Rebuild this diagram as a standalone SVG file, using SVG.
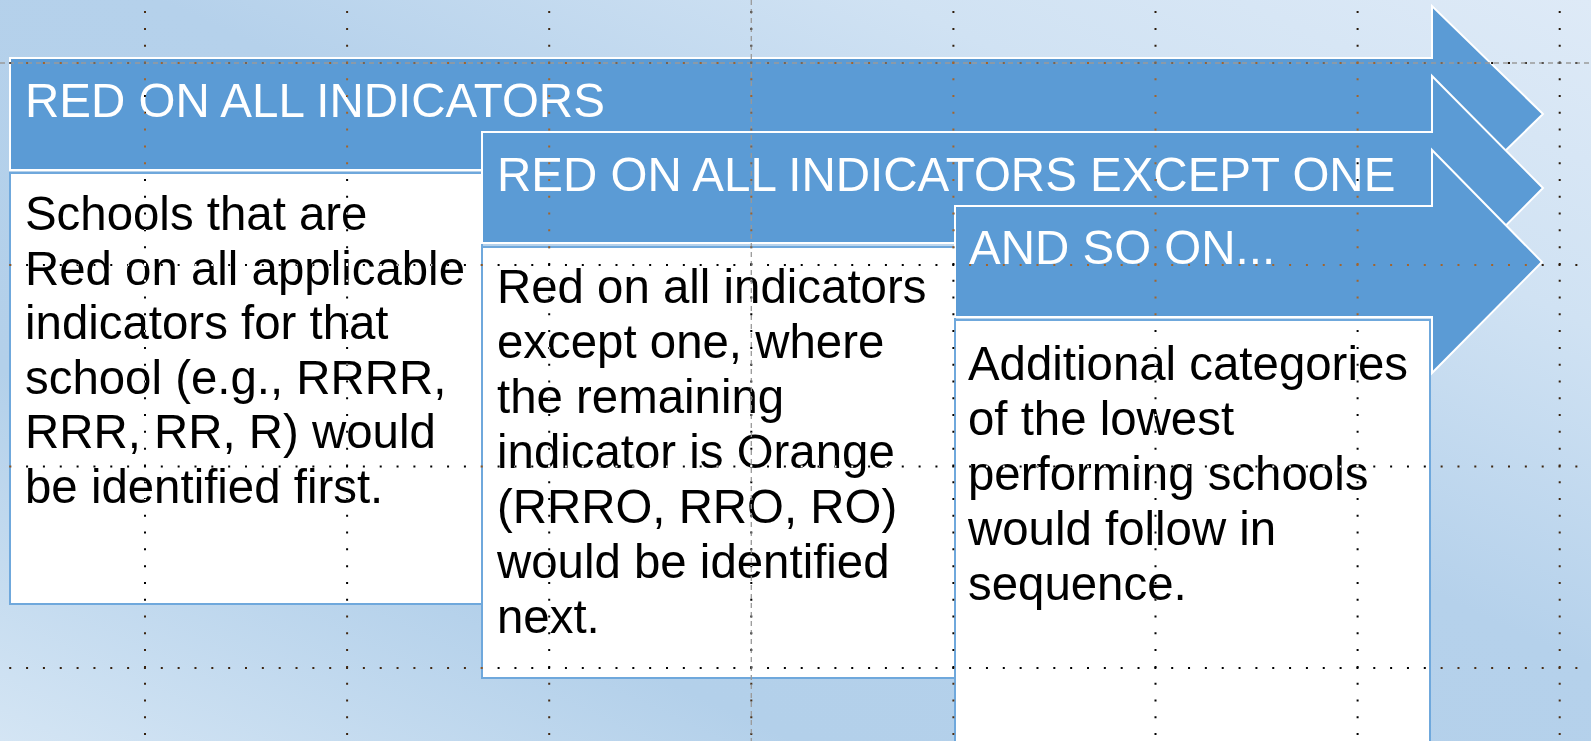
<svg xmlns="http://www.w3.org/2000/svg" width="1591" height="741" viewBox="0 0 1591 741">
<defs>
<linearGradient id="bg" x1="0" y1="1" x2="1" y2="0">
<stop offset="0" stop-color="#D4E5F4"/>
<stop offset="0.25" stop-color="#B3D0EA"/>
<stop offset="0.55" stop-color="#B5D1EB"/>
<stop offset="0.78" stop-color="#D0E2F3"/>
<stop offset="1" stop-color="#DEEAF7"/>
</linearGradient>
<style>
.arrow{fill:#5B9BD5;stroke:#ffffff;stroke-width:2;stroke-linejoin:miter}
.box{fill:#ffffff;stroke:#6FA8DC;stroke-width:2}
.hdr{font-family:"Liberation Sans",Arial,sans-serif;font-size:47.5px;fill:#ffffff}
.body{font-family:"Liberation Sans",Arial,sans-serif;font-size:47.4px;fill:#000000}
.gv{stroke:#ffffff;stroke-width:2;stroke-dasharray:2 14.79;fill:none}
.gh{stroke:#ffffff;stroke-width:2;stroke-dasharray:2 14.84;fill:none}
.guide{stroke:#9a9a9a;stroke-width:1.3;stroke-dasharray:5 4;fill:none}
</style>
</defs>
<rect id="background" x="0" y="0" width="1591" height="741" fill="url(#bg)"/>

<g id="step1">
<path class="arrow" d="M10,58 H1432 V6 L1543,114 L1432,222 V170 H10 Z"/>
<text class="hdr" x="25" y="117">RED ON ALL INDICATORS</text>
<rect class="box" x="10" y="173" width="472" height="431"/>
<text class="body" x="25" y="230">Schools that are</text>
<text class="body" x="25" y="284.6">Red on all applicable</text>
<text class="body" x="25" y="339.2">indicators for that</text>
<text class="body" x="25" y="393.8">school (e.g., RRRR,</text>
<text class="body" x="25" y="448.4">RRR, RR, R) would</text>
<text class="body" x="25" y="503">be identified first.</text>
</g>

<g id="step2">
<path class="arrow" d="M482,132 H1432 V76 L1543,188 L1432,300 V243 H482 Z"/>
<text class="hdr" x="497" y="191">RED ON ALL INDICATORS EXCEPT ONE</text>
<rect class="box" x="482" y="247" width="473" height="431"/>
<text class="body" x="497" y="303">Red on all indicators</text>
<text class="body" x="497" y="358">except one, where</text>
<text class="body" x="497" y="413">the remaining</text>
<text class="body" x="497" y="468">indicator is Orange</text>
<text class="body" x="497" y="523">(RRRO, RRO, RO)</text>
<text class="body" x="497" y="578">would be identified</text>
<text class="body" x="497" y="633">next.</text>
</g>

<g id="step3">
<path class="arrow" d="M955,206 H1432 V150 L1542,262 L1432,373 V317 H955 Z"/>
<text class="hdr" x="969" y="264">AND SO ON...</text>
<rect class="box" x="955" y="320" width="475" height="440"/>
<text class="body" x="968" y="380">Additional categories</text>
<text class="body" x="968" y="435">of the lowest</text>
<text class="body" x="968" y="490">performing schools</text>
<text class="body" x="968" y="545">would follow in</text>
<text class="body" x="968" y="600">sequence.</text>
</g>

<g id="connectors"></g>

<g id="guides">
<line class="guide" x1="751.3" y1="0" x2="751.3" y2="741"/>
<line class="guide" x1="0" y1="63" x2="1591" y2="63"/>
</g>

<g id="grid" style="mix-blend-mode:difference">
<line class="gv" x1="145" y1="-5.7" x2="145" y2="741"/>
<line class="gv" x1="347.1" y1="-5.7" x2="347.1" y2="741"/>
<line class="gv" x1="549.2" y1="-5.7" x2="549.2" y2="741"/>
<line class="gv" x1="751.3" y1="-5.7" x2="751.3" y2="741"/>
<line class="gv" x1="953.4" y1="-5.7" x2="953.4" y2="741"/>
<line class="gv" x1="1155.5" y1="-5.7" x2="1155.5" y2="741"/>
<line class="gv" x1="1357.6" y1="-5.7" x2="1357.6" y2="741"/>
<line class="gv" x1="1559.7" y1="-5.7" x2="1559.7" y2="741"/>
<line class="gh" x1="-7.6" y1="63" x2="1591" y2="63"/>
<line class="gh" x1="-7.6" y1="265" x2="1591" y2="265"/>
<line class="gh" x1="-7.6" y1="466.5" x2="1591" y2="466.5"/>
<line class="gh" x1="-7.6" y1="668" x2="1591" y2="668"/>
</g>
</svg>
